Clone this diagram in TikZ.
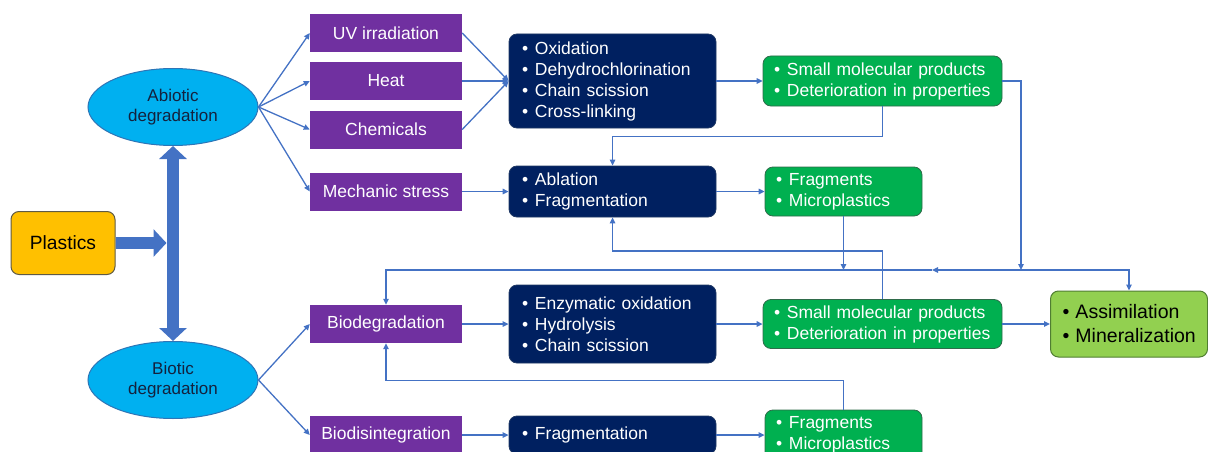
\documentclass[tikz,border=0pt]{standalone}
\usepackage{fontspec}
\setmainfont{Liberation Sans}
\usetikzlibrary{shapes.geometric, arrows.meta}

\definecolor{skyfill}{HTML}{00B0F0}
\definecolor{skyline}{HTML}{2E75B6}
\definecolor{ellitext}{HTML}{14213D}
\definecolor{amber}{HTML}{FFC000}
\definecolor{amberline}{HTML}{5F5A45}
\definecolor{violet}{HTML}{7030A0}
\definecolor{navy}{HTML}{002060}
\definecolor{navyline}{HTML}{1F3864}
\definecolor{leaf}{HTML}{00B050}
\definecolor{leafline}{HTML}{2F6B4A}
\definecolor{lime}{HTML}{92D050}
\definecolor{limeline}{HTML}{507E32}
\definecolor{linkblue}{HTML}{4472C4}

\hyphenpenalty=10000
\newcommand{\bul}{\makebox[13pt][l]{\textbullet}}

\begin{document}
\begin{tikzpicture}
                        [
                            x=1pt, y=-1pt,
                            ellip/.style = {draw=skyline, fill=skyfill, shape=ellipse, minimum width=170pt, minimum height=77pt, line width=1pt, text=ellitext, align=center, inner sep=0pt, font=\fontsize{17}{20.7}\selectfont},
                            plast/.style = {draw=amberline, fill=amber, shape=rectangle, rounded corners=8pt, minimum width=104pt, minimum height=63pt, line width=1pt, font=\fontsize{19.2}{23}\selectfont},
                            factor/.style = {fill=violet, shape=rectangle, minimum width=152pt, minimum height=38pt, text=white, font=\fontsize{17.5}{21}\selectfont},
                            process/.style = {draw=navyline, fill=navy, shape=rectangle, rounded corners=8pt, text width=181pt, inner xsep=13pt, inner ysep=2pt, align=left, line width=0.8pt, text=white, font=\fontsize{17.5}{21}\selectfont},
                            product/.style = {draw=leafline, fill=leaf, shape=rectangle, rounded corners=8pt, inner xsep=11pt, inner ysep=2pt, align=left, line width=0.8pt, text=white, font=\fontsize{17.5}{21}\selectfont},
                            final/.style = {draw=limeline, fill=lime, shape=rectangle, rounded corners=8pt, text width=133pt, inner xsep=12pt, minimum height=66pt, align=left, line width=1pt, font=\fontsize{19.5}{24}\selectfont},
                            link/.style = {draw=linkblue, line width=1.3pt, -{Triangle[length=6pt,width=5.5pt]}},
                            fat/.style = {draw=linkblue, line width=12.5pt},
                        ]
                        \useasboundingbox (0,0) rectangle (1208,452);

                        \node[plast] (plas) at (63,243)     {Plastics};
                        \node[ellip] (abio) at (173,107)   {Abiotic\\degradation};
                        \node[ellip] (biot) at (173,380)   {Biotic\\degradation};
                        \coordinate (hub) at (173,243);

                        \node[factor] (uv)   at (386,33)    {UV irradiation};
                        \node[factor] (heat) at (386,81)    {Heat};
                        \node[factor] (chem) at (386,129.5) {Chemicals};
                        \node[factor] (mech) at (386,191.5) {Mechanic stress};
                        \node[factor] (bio)  at (386,324)   {Biodegradation};
                        \node[factor] (bdis) at (386,435)   {Biodisintegration};

                        \node[process, minimum height=94pt] (oxi) at (612.5,81)    {\bul Oxidation\\\bul Dehydrochlorination\\\bul Chain scission\\\bul Cross-linking};
                        \node[process, minimum height=51pt] (abl) at (612.5,191.5) {\bul Ablation\\\bul Fragmentation};
                        \node[process, minimum height=78pt] (enz) at (612.5,324)   {\bul Enzymatic oxidation\\\bul Hydrolysis\\\bul Chain scission};
                        \node[process, minimum height=38pt] (frg) at (612.5,435)   {\bul Fragmentation};

                        \node[product, text width=217pt, minimum height=50pt] (smA)   at (882.5,81)    {\bul Small molecular products\\\bul Deterioration in properties};
                        \node[product, text width=135pt, minimum height=49pt] (fragA) at (843.5,191.5) {\bul Fragments\\\bul Microplastics};
                        \node[product, text width=217pt, minimum height=49pt] (smB)   at (882.5,324)   {\bul Small molecular products\\\bul Deterioration in properties};
                        \node[product, text width=135pt, minimum height=50pt] (fragB) at (843.5,435)   {\bul Fragments\\\bul Microplastics};

                        \node[final] (fin) at (1129,324) {\bul Assimilation\\\bul Mineralization};

                        \coordinate (j1) at (1021,270);
                        \coordinate (jm) at (932,270);

                        \draw[fat, -{Triangle[length=13pt,width=27pt]}] (plas.east) -- ([xshift=-6.5pt]hub);
                        \draw[fat, {Triangle[length=13pt,width=27pt]}-{Triangle[length=13pt,width=27pt]}] (abio.south) -- (biot.north);

                        \foreach \f in {uv, heat, chem, mech}
                            \draw[link] (abio.east) -- (\f.west);
                        \foreach \f in {bio, bdis}
                            \draw[link] (biot.east) -- (\f.west);
                        \foreach \f in {uv, heat, chem}
                            \draw[link] (\f.east) -- (oxi.west);

                        \draw[link] (mech.east) -- (abl.west);
                        \draw[link] (bio.east) -- (enz.west);
                        \draw[link] (bdis.east) -- (frg.west);
                        \draw[link] (oxi.east) -- (smA.west);
                        \draw[link] (abl.east) -- (fragA.west);
                        \draw[link] (enz.east) -- (smB.west);
                        \draw[link] (frg.east) -- (fragB.west);
                        \draw[link] (smB.east) -- (fin.west);

                        \draw[link] (smA.east) -| (j1);
                        \draw[link] (j1) -| (fin.north);
                        \draw[link] (j1) -- (jm);
                        \draw[link] (jm) -| (bio.north);
                        \draw[link] (fragA.south) -- (fragA.south |- jm);
                        \draw[link] (smA.south) -- ++(0,30) -| (abl.north);
                        \draw[link] (smB.north) -- ++(0,-48) -| (abl.south);
                        \draw[link] (fragB.north) -- ++(0,-29) -| (bio.south);
                    \end{tikzpicture}
\end{document}
